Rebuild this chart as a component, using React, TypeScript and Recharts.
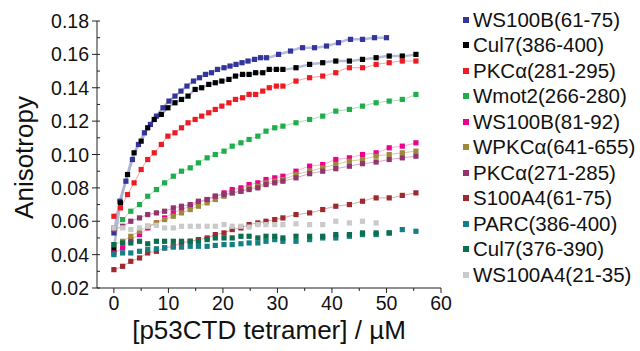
import React from 'react'
import { LineChart, Line, XAxis, YAxis, Label } from 'recharts'

// x positions (µM) of the titration points for each sampling scheme
const X_BLUE = [0, 1.1, 2.2, 3.4, 4.5, 5.6, 6.7, 7.8, 9.0, 10.1, 11.2, 12.3, 13.4, 14.6, 15.7, 16.8, 17.9, 19.0, 20.2, 21.3, 22.4, 23.5, 24.6, 25.8, 26.9, 28.0, 30.2, 32.4, 34.6, 36.8, 39.0, 41.2, 43.4, 45.6, 47.8, 50.0]
const X_FAST = [0, 1.2, 2.5, 3.7, 5.0, 6.2, 7.4, 8.7, 9.9, 11.2, 12.4, 13.6, 14.9, 16.1, 17.4, 18.6, 19.8, 21.1, 22.3, 23.6, 24.8, 26.0, 27.3, 28.5, 29.8, 31.0, 33.4, 35.9, 38.3, 40.7, 43.2, 45.6, 48.1, 50.5, 52.9, 55.4]
const X_SLOW = [0, 1.6, 3.1, 4.7, 6.2, 7.8, 9.3, 10.9, 12.4, 14.0, 15.5, 17.1, 18.6, 20.2, 21.7, 23.3, 24.8, 26.4, 27.9, 29.5, 31.0, 33.4, 35.9, 38.3, 40.7, 43.2, 45.6, 48.1, 50.5, 52.9, 55.4]

const WS100B_61_75 = [0.053, 0.072, 0.084, 0.097, 0.106, 0.113, 0.118, 0.123, 0.128, 0.132, 0.135, 0.138, 0.141, 0.144, 0.146, 0.148, 0.149, 0.151, 0.152, 0.153, 0.154, 0.155, 0.156, 0.157, 0.158, 0.158, 0.160, 0.162, 0.164, 0.164, 0.165, 0.167, 0.169, 0.169, 0.170, 0.170]
const CUL7_386_400 = [0.043, 0.071, 0.088, 0.101, 0.108, 0.116, 0.121, 0.124, 0.128, 0.131, 0.133, 0.135, 0.139, 0.140, 0.142, 0.143, 0.144, 0.145, 0.147, 0.148, 0.148, 0.149, 0.149, 0.151, 0.151, 0.151, 0.152, 0.154, 0.155, 0.156, 0.156, 0.157, 0.158, 0.159, 0.159, 0.160]
const PKCA_281_295 = [0.063, 0.068, 0.076, 0.083, 0.091, 0.097, 0.101, 0.106, 0.111, 0.113, 0.116, 0.119, 0.121, 0.123, 0.125, 0.127, 0.129, 0.131, 0.133, 0.134, 0.136, 0.136, 0.138, 0.140, 0.141, 0.141, 0.144, 0.146, 0.147, 0.149, 0.152, 0.152, 0.154, 0.155, 0.156, 0.156]
const WMOT2_266_280 = [0.056, 0.061, 0.066, 0.070, 0.075, 0.079, 0.083, 0.087, 0.090, 0.092, 0.095, 0.098, 0.100, 0.102, 0.105, 0.107, 0.109, 0.111, 0.114, 0.116, 0.117, 0.119, 0.121, 0.123, 0.126, 0.127, 0.129, 0.131, 0.132, 0.133, 0.136]
const WS100B_81_92 = [0.041, 0.044, 0.049, 0.052, 0.056, 0.059, 0.062, 0.065, 0.067, 0.069, 0.071, 0.073, 0.075, 0.077, 0.079, 0.080, 0.082, 0.083, 0.085, 0.086, 0.087, 0.090, 0.093, 0.094, 0.097, 0.098, 0.100, 0.101, 0.104, 0.105, 0.107]
const WPKCA_641_655 = [0.046, 0.048, 0.051, 0.054, 0.057, 0.059, 0.061, 0.063, 0.065, 0.067, 0.069, 0.071, 0.073, 0.075, 0.077, 0.078, 0.080, 0.081, 0.083, 0.084, 0.085, 0.088, 0.090, 0.092, 0.094, 0.096, 0.097, 0.099, 0.100, 0.101, 0.102]
const PKCA_271_285 = [0.055, 0.057, 0.060, 0.062, 0.064, 0.065, 0.066, 0.068, 0.069, 0.070, 0.072, 0.073, 0.075, 0.076, 0.077, 0.078, 0.079, 0.080, 0.082, 0.083, 0.084, 0.086, 0.0885, 0.090, 0.0915, 0.093, 0.0945, 0.0955, 0.097, 0.098, 0.099]
const S100A4_61_75 = [0.031, 0.033, 0.036, 0.038, 0.041, 0.042, 0.044, 0.045, 0.047, 0.048, 0.049, 0.050, 0.052, 0.053, 0.055, 0.056, 0.058, 0.059, 0.060, 0.061, 0.062, 0.064, 0.065, 0.067, 0.069, 0.070, 0.072, 0.074, 0.074, 0.0755, 0.077]
const PARC_386_400 = [0.040, 0.041, 0.041, 0.042, 0.043, 0.0435, 0.044, 0.0445, 0.0445, 0.045, 0.045, 0.045, 0.0455, 0.046, 0.046, 0.0465, 0.047, 0.047, 0.048, 0.049, 0.048, 0.048, 0.049, 0.050, 0.050, 0.051, 0.052, 0.052, 0.053, 0.055, 0.054]
const CUL7_376_390 = [0.046, 0.047, 0.047, 0.048, 0.0465, 0.048, 0.048, 0.048, 0.048, 0.048, 0.048, 0.049, 0.050, 0.050, 0.050, 0.051, 0.051, 0.050, 0.051, 0.051, 0.050, 0.051, 0.051, 0.051, 0.052, 0.052, 0.053, 0.053, 0.053, null, null]
const WS100A4_21_35 = [0.056, 0.056, 0.055, 0.056, 0.057, 0.0575, 0.056, 0.056, 0.057, 0.057, 0.057, 0.057, 0.057, 0.058, 0.057, 0.057, 0.0565, 0.058, 0.058, 0.058, 0.058, 0.0585, 0.058, 0.058, 0.060, 0.059, 0.060, 0.059, null, null, null]

const X_TICKS = [0, 5, 10, 15, 20, 25, 30, 35, 40, 45, 50, 55, 60]
const Y_TICKS = [0.02, 0.03, 0.04, 0.05, 0.06, 0.07, 0.08, 0.09, 0.1, 0.11, 0.12, 0.13, 0.14, 0.15, 0.16, 0.17, 0.18]

const FONT = '"Liberation Sans", Arial, Helvetica, sans-serif'

interface Series {
  name: string
  color: string
  fit: string
  fitWidth: number
  xs: number[]
  ys: (number | null)[]
}

const SERIES: Series[] = [
  { name: 'WS100B(61-75)', color: '#34359a', fit: '#a9b0d0', fitWidth: 2.5, xs: X_BLUE, ys: WS100B_61_75 },
  { name: 'Cul7(386-400)', color: '#000000', fit: '#a9b0d0', fitWidth: 2.5, xs: X_FAST, ys: CUL7_386_400 },
  { name: 'PKCα(281-295)', color: '#ed1c24', fit: '#f59090', fitWidth: 1, xs: X_FAST, ys: PKCA_281_295 },
  { name: 'Wmot2(266-280)', color: '#1fae4b', fit: '#92d8a8', fitWidth: 1, xs: X_SLOW, ys: WMOT2_266_280 },
  { name: 'WS100B(81-92)', color: '#ec008c', fit: '#f5a0d2', fitWidth: 1, xs: X_SLOW, ys: WS100B_81_92 },
  { name: 'WPKCα(641-655)', color: '#9c8a3a', fit: '#cfc08a', fitWidth: 1, xs: X_SLOW, ys: WPKCA_641_655 },
  { name: 'PKCα(271-285)', color: '#92356f', fit: '#cf98bb', fitWidth: 1, xs: X_SLOW, ys: PKCA_271_285 },
  { name: 'S100A4(61-75)', color: '#9e2a2f', fit: '#d49a9a', fitWidth: 1, xs: X_SLOW, ys: S100A4_61_75 },
  { name: 'PARC(386-400)', color: '#157f86', fit: 'none', fitWidth: 0, xs: X_SLOW, ys: PARC_386_400 },
  { name: 'Cul7(376-390)', color: '#0b6e4f', fit: 'none', fitWidth: 0, xs: X_SLOW, ys: CUL7_376_390 },
  { name: 'WS100A4(21-35)', color: '#cacaca', fit: 'none', fitWidth: 0, xs: X_SLOW, ys: WS100A4_21_35 },
]

function squareDot(color: string) {
  return (props: any) => {
    const { cx, cy, index } = props
    if (cx == null || cy == null || props.value == null) return <g key={`e-${index}`} />
    return <rect key={`d-${index}`} x={cx - 2.6} y={cy - 2.6} width={5.2} height={5.2} fill={color} />
  }
}

function YTick(props: any) {
  const { x, y, payload, index } = props
  const axisX = x + 8
  const major = index % 2 === 0
  return (
    <g>
      <line x1={axisX} x2={axisX + 3} y1={y} y2={y} stroke="#222" strokeWidth={1} />
      {major && <line x1={axisX - 5} x2={axisX} y1={y} y2={y} stroke="#222" strokeWidth={1} />}
      {major && (
        <text x={x} y={y} dy="0.36em" textAnchor="end" fontSize={19.5} fontFamily={FONT} fill="#111">
          {payload.value.toFixed(2)}
        </text>
      )}
    </g>
  )
}

function XTick(props: any) {
  const { x, y, payload, index } = props
  const axisY = y - 8
  const major = index % 2 === 0
  return (
    <g>
      <line x1={x} x2={x} y1={axisY} y2={axisY + (major ? 5 : 3)} stroke="#222" strokeWidth={1} />
      {major && (
        <text x={x} y={y} dy="0.71em" textAnchor="middle" fontSize={19.5} fontFamily={FONT} fill="#111">
          {payload.value}
        </text>
      )}
    </g>
  )
}

export default function App() {
  return (
    <div style={{ position: 'relative', width: 640, height: 351, background: '#fff', fontFamily: FONT }}>
      <style>{'body{margin:0}'}</style>
      <LineChart width={640} height={351} margin={{ top: 21, right: 199, bottom: 0, left: 0 }}>
        <XAxis
          type="number"
          dataKey="x"
          domain={[-3.1, 60]}
          ticks={X_TICKS}
          interval={0}
          allowDataOverflow
          tickSize={5}
          tickMargin={3}
          tickLine={false}
          tick={<XTick />}
          axisLine={{ stroke: '#222', strokeWidth: 1 }}
          height={63}
        >
          <Label
            content={({ viewBox }: any) => (
              <text
                x={viewBox.x + viewBox.width / 2}
                y={339}
                textAnchor="middle"
                fontSize={26}
                fontFamily={FONT}
                fill="#111"
              >
                [p53CTD tetramer] / µM
              </text>
            )}
          />
        </XAxis>
        <YAxis
          type="number"
          domain={[0.02, 0.18]}
          ticks={Y_TICKS}
          interval={0}
          allowDataOverflow
          tickSize={5}
          tickMargin={3}
          tickLine={false}
          tick={<YTick />}
          axisLine={{ stroke: '#222', strokeWidth: 1 }}
          width={97}
        >
          <Label
            content={({ viewBox }: any) => {
              const cy = viewBox.y + viewBox.height / 2 + 3
              return (
                <text
                  x={33}
                  y={cy}
                  textAnchor="middle"
                  fontSize={26}
                  fontFamily={FONT}
                  fill="#111"
                  transform={`rotate(-90 33 ${cy})`}
                >
                  Anisotropy
                </text>
              )
            }}
          />
        </YAxis>
        {SERIES.map((s) => (
          <Line
            key={s.name}
            name={s.name}
            data={s.xs.map((x, i) => ({ x, y: s.ys[i] }))}
            dataKey="y"
            type="monotone"
            stroke={s.fit}
            strokeWidth={s.fitWidth}
            strokeOpacity={0.85}
            dot={squareDot(s.color)}
            activeDot={false}
            isAnimationActive={false}
            connectNulls={false}
          />
        ))}
      </LineChart>
      <div style={{ position: 'absolute', left: 463, top: 7 }}>
        {SERIES.map((s) => (
          <div key={s.name} style={{ display: 'flex', alignItems: 'center', height: 25.5 }}>
            <span style={{ display: 'inline-block', width: 6, height: 6, background: s.color, marginRight: 4 }} />
            <span style={{ fontSize: 20.5, color: '#111', whiteSpace: 'nowrap' }}>{s.name}</span>
          </div>
        ))}
      </div>
    </div>
  )
}
